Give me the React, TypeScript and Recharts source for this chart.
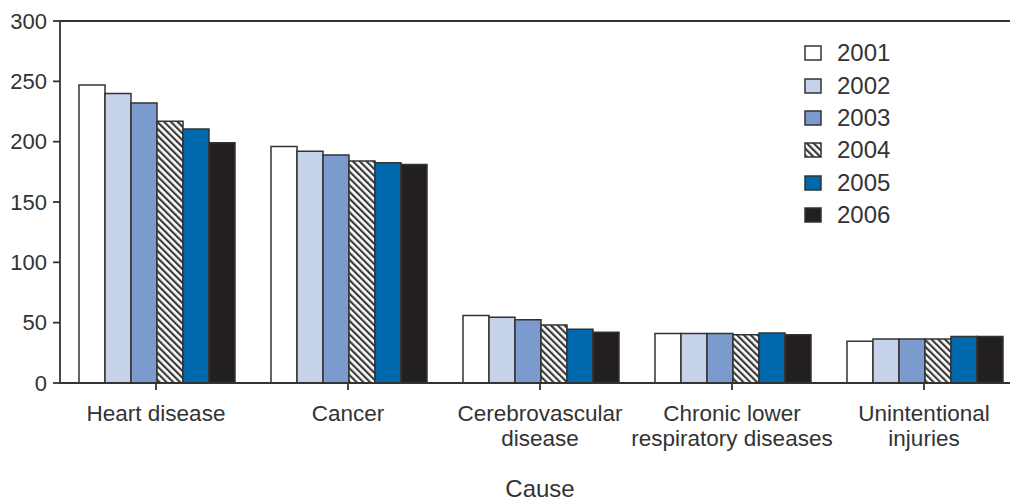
import React from 'react';
import { BarChart, Bar, XAxis, YAxis, Legend, ReferenceLine, Label } from 'recharts';

const causes = [
  'Heart disease',
  'Cancer',
  'Cerebrovascular\ndisease',
  'Chronic lower\nrespiratory diseases',
  'Unintentional\ninjuries',
];
const years = ['2001', '2002', '2003', '2004', '2005', '2006'];
const v2001 = [247, 196, 56, 41, 34.5];
const v2002 = [240, 192, 54.5, 41, 36.5];
const v2003 = [232, 189, 52.5, 41, 36.5];
const v2004 = [217, 184, 48, 40, 36.5];
const v2005 = [210.5, 182.5, 44.5, 41.5, 38.5];
const v2006 = [199, 181, 42, 40, 38.5];
const yTicks = [0, 50, 100, 150, 200, 250, 300];

const series = [v2001, v2002, v2003, v2004, v2005, v2006];
const FILLS = ['#ffffff', '#c5d2ea', '#7b9bcf', 'url(#hatch)', '#0068ad', '#231f20'];
const INK = '#333333';
const FONT = '"Liberation Sans", Arial, sans-serif';

const data = causes.map((c, i) => {
  const row: Record<string, any> = { cause: c };
  years.forEach((y, j) => { row[y] = series[j][i]; });
  return row;
});

const CauseTick = ({ x, y, payload }: any) => {
  const lines = String(payload.value).split('\n');
  return (
    <text x={x} y={y} textAnchor="middle" fill={INK} fontSize={22.5} fontFamily={FONT}>
      {lines.map((l, i) => (
        <tspan key={i} x={x} y={y + 29 + i * 25}>{l}</tspan>
      ))}
    </text>
  );
};

const YearLegend = () => (
  <div style={{ fontFamily: FONT, color: INK }}>
    {years.map((y, i) => (
      <div key={y} style={{ display: 'flex', alignItems: 'center', height: 32.4 }}>
        <svg width={18} height={16} style={{ marginRight: 15 }}>
          <rect x={1} y={1} width={16} height={14} fill={FILLS[i]} stroke={INK} strokeWidth={1.5} />
        </svg>
        <span style={{ fontSize: 24 }}>{y}</span>
      </div>
    ))}
  </div>
);

export default function App() {
  return (
    <div style={{ position: 'absolute', left: 0, top: 0, width: 1010, height: 504, overflow: 'hidden', background: '#fff' }}>
      <svg width={0} height={0} style={{ position: 'absolute' }}>
        <defs>
          <pattern id="hatch" patternUnits="userSpaceOnUse" width={4.8} height={10} patternTransform="rotate(-45)">
            <rect x={0} y={0} width={4.8} height={10} fill="#ffffff" />
            <rect x={0} y={0} width={2.2} height={10} fill="#3a3a3a" />
          </pattern>
        </defs>
      </svg>
      {/* plot runs past the right edge, like the cropped original */}
      <BarChart
        width={1030}
        height={504}
        data={data}
        margin={{ top: 21, right: 10, left: 0, bottom: 0 }}
        barGap={0}
        barCategoryGap={19}
      >
        <XAxis
          dataKey="cause"
          interval={0}
          height={121}
          stroke={INK}
          strokeWidth={1.8}
          tickSize={7}
          tick={<CauseTick />}
        >
          <Label value="Cause" position="insideBottom" offset={7} fill={INK} fontSize={24} fontFamily={FONT} />
        </XAxis>
        <YAxis
          domain={[0, 300]}
          ticks={yTicks}
          interval={0}
          width={60}
          stroke={INK}
          strokeWidth={1.8}
          tickSize={7}
          tickMargin={6}
          tick={{ fill: INK, fontSize: 22, fontFamily: FONT }}
        />
        <ReferenceLine y={300} stroke={INK} strokeWidth={1.8} />
        <Legend
          layout="vertical"
          verticalAlign="middle"
          align="center"
          content={<YearLegend />}
          wrapperStyle={{ left: 804, top: 37, width: 150 }}
        />
        {years.map((y, i) => (
          <Bar
            key={y}
            dataKey={y}
            fill={FILLS[i]}
            stroke={INK}
            strokeWidth={1.5}
            isAnimationActive={false}
          />
        ))}
      </BarChart>
    </div>
  );
}
